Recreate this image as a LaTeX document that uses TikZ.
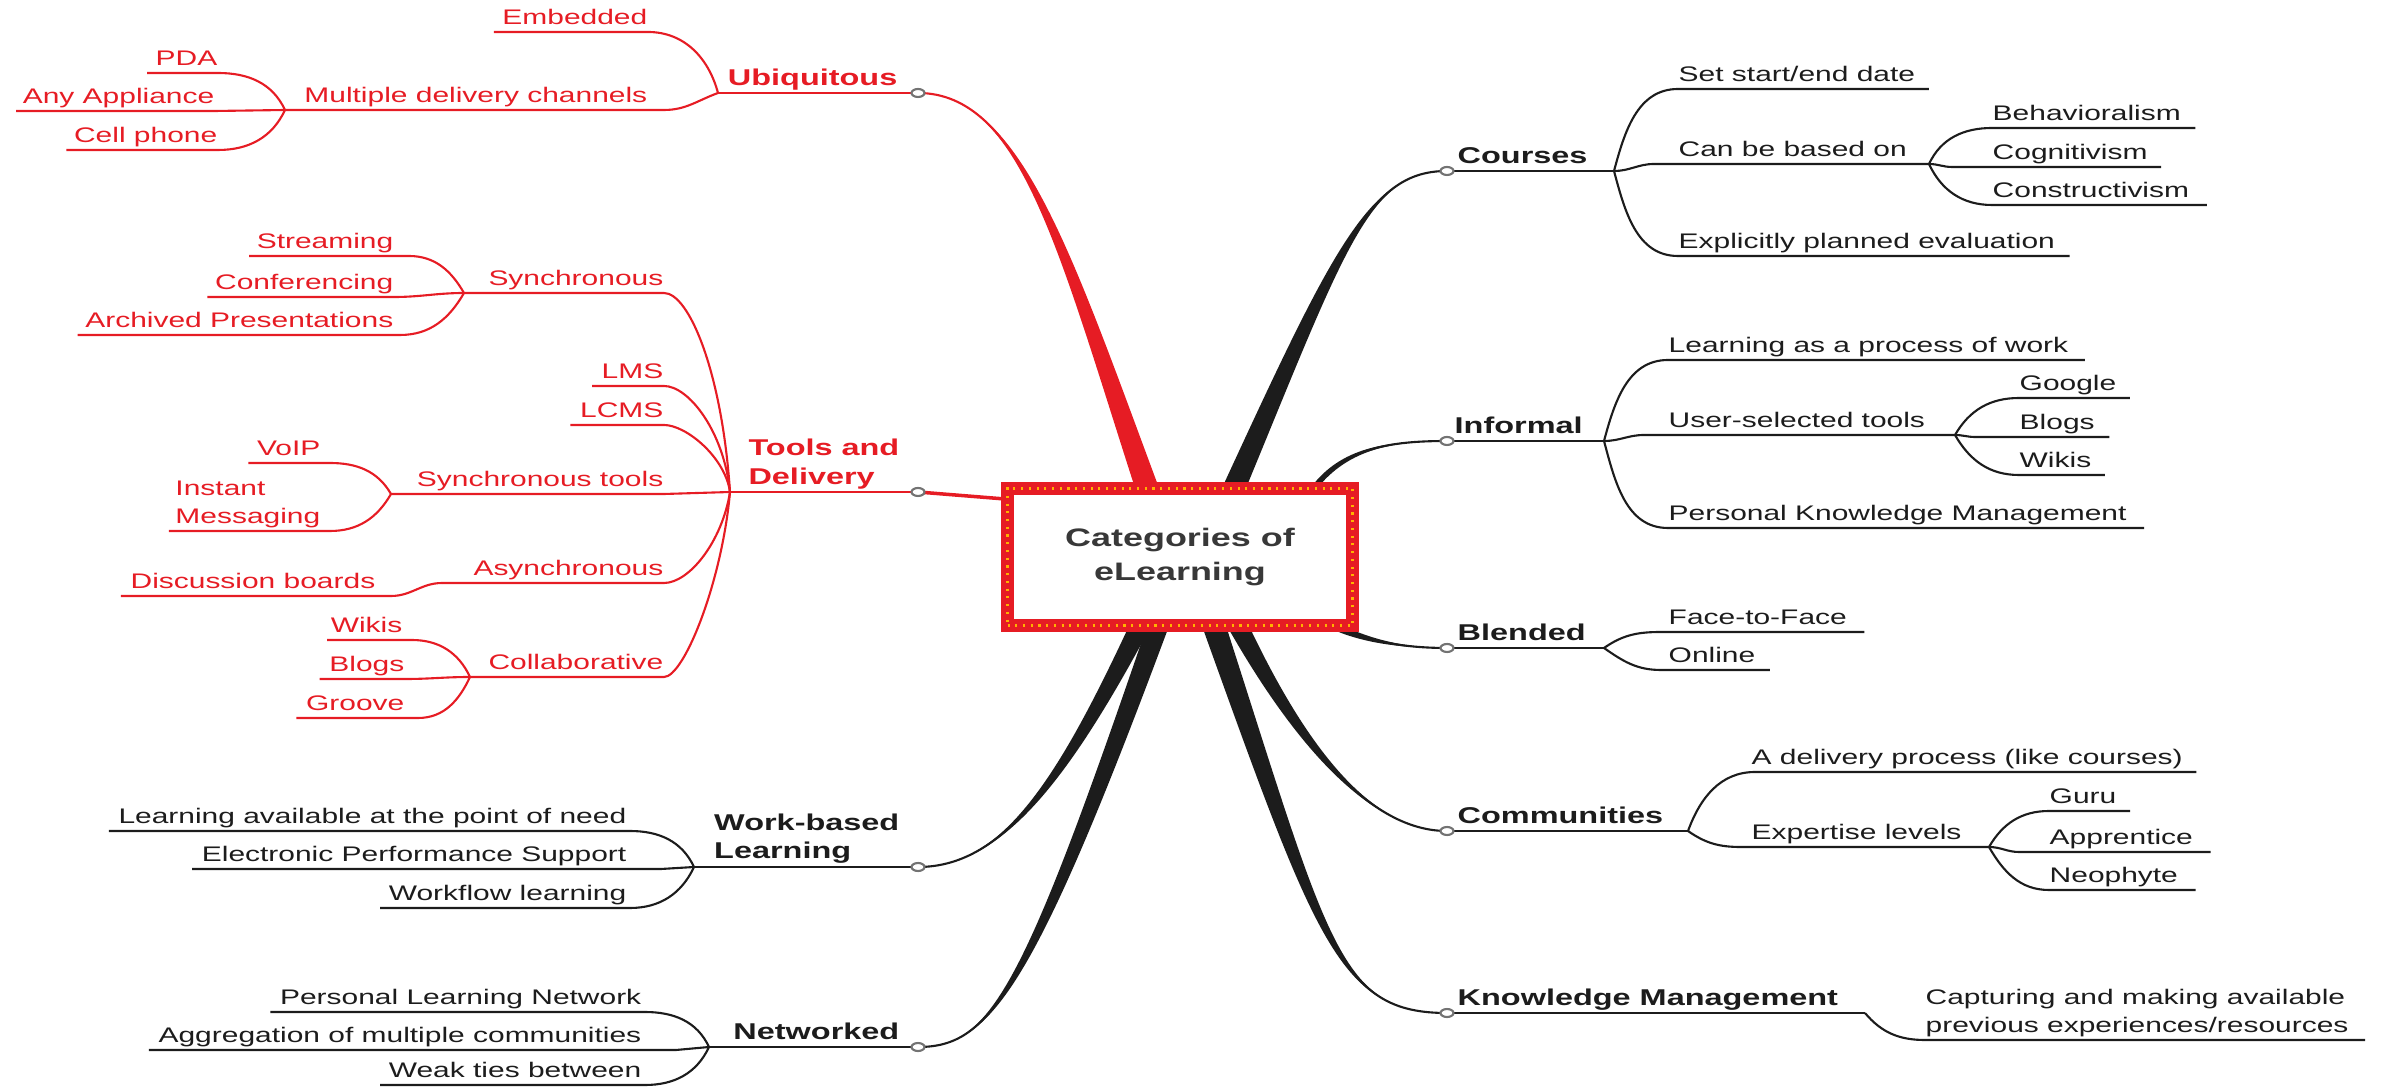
\documentclass[tikz,border=0pt]{standalone}
\usepackage{fontspec}
\setmainfont{Liberation Sans}[FakeStretch=1.42]
\usetikzlibrary{calc}

\definecolor{mmred}{RGB}{230,28,36}
\definecolor{ink}{RGB}{28,28,28}

\tikzset{
  twig/.style={inner xsep=0pt,inner ysep=0.07cm,text depth=0pt,text=ink,font=\fontsize{6}{8}\selectfont},
  twigs/.style={inner xsep=0pt,inner ysep=0.025cm,align=left,text=ink,font=\fontsize{6}{8}\selectfont},
  topic/.style={twig,font=\fontsize{6.5}{8}\selectfont\bfseries},
  topics/.style={twigs,font=\fontsize{6.5}{8}\selectfont\bfseries},
  hot/.style={text=mmred},
  lt/.style={anchor=south east},
  rt/.style={anchor=south west},
  stem/.style={draw=ink,line width=0.6pt},
  hotstem/.style={draw=mmred,line width=0.6pt},
  knob/.style={draw=black!55,fill=white,line width=0.6pt},
  hub/.style={draw=mmred,line width=3.7pt,fill=white,minimum width=3.45cm,minimum height=1.375cm,
    inner sep=0pt,align=center,text=black!78,font=\fontsize{7.2}{9.4}\selectfont\bfseries,
    postaction={draw=orange!60!yellow,line width=0.9pt,dash pattern=on 0.6pt off 1.6pt}}
}

% tapered main branch: colour, root, control 1, control 2, tip, half-width (x,y)
\newcommand\limb[7]{%
  \fill[#1] ($(#2)+(#6,#7)$) .. controls ($(#3)+0.5*(#6,#7)$) and (#4) .. (#5)
    .. controls (#4) and ($(#3)-0.5*(#6,#7)$) .. ($(#2)-(#6,#7)$) -- cycle;
  \draw[#1,line width=0.6pt] (#2) .. controls (#3) and (#4) .. (#5);}

\begin{document}
\begin{tikzpicture}
\useasboundingbox (0,0) rectangle (23.99,10.88);

% ends of the main branches
\coordinate (ubq-k) at (9.18,9.95);
\coordinate (tad-k) at (9.18,5.96);
\coordinate (wbl-k) at (9.18,2.21);
\coordinate (net-k) at (9.18,0.41);
\coordinate (crs-k) at (14.47,9.17);
\coordinate (inf-k) at (14.47,6.47);
\coordinate (bld-k) at (14.47,4.40);
\coordinate (com-k) at (14.47,2.57);
\coordinate (km-k) at (14.47,0.75);
% roots under the centre box
\coordinate (ubq-r) at (11.47,6.00);
\coordinate (crs-r) at (12.34,6.00);
\coordinate (inf-r) at (13.14,6.00);
\coordinate (bld-r) at (13.35,4.62);
\coordinate (com-r) at (12.38,4.62);
\coordinate (km-r) at (12.14,4.62);
\coordinate (wbl-r) at (11.40,4.62);
\coordinate (net-r) at (11.58,4.62);
\coordinate (tad-r) at (10.05,5.89);

\limb{mmred}{ubq-r}{10.64,8.39}{10.20,9.95}{ubq-k}{0.12}{0}
\limb{ink}{crs-r}{13.41,8.45}{13.70,9.17}{crs-k}{0.12}{0}
\limb{ink}{inf-r}{13.45,6.40}{13.90,6.47}{inf-k}{0}{0.045}
\limb{ink}{bld-r}{13.70,4.45}{14.10,4.40}{bld-k}{0}{0.045}
\limb{ink}{com-r}{13.00,3.43}{13.70,2.57}{com-k}{0.11}{0}
\limb{ink}{km-r}{13.23,1.42}{13.40,0.75}{km-k}{0.12}{0}
\limb{ink}{wbl-r}{10.60,3.02}{10.00,2.21}{wbl-k}{0.11}{0}
\limb{ink}{net-r}{10.27,0.95}{9.90,0.41}{net-k}{0.11}{0}
\draw[mmred,line width=1pt] (tad-k) -- (tad-r);

\node[hub] (hub) at (11.80,5.31) {Categories of\\eLearning};

% Ubiquitous
\node[topic,hot,lt] (ubq) at (8.98,9.95) {Ubiquitous};
\coordinate (ubq-j) at (7.18,9.95);
\draw[hotstem] (ubq-j) -- (ubq-k);
\node[twig,hot,lt] (emb) at (6.48,10.56) {Embedded};
\draw[hotstem] ([xshift=-0.08cm]emb.south west) -- (emb.south east) to[out=0,in=105] (ubq-j);
\node[twig,hot,lt] (mdc) at (6.48,9.78) {Multiple delivery channels};
\coordinate (mdc-j) at (2.85,9.78);
\draw[hotstem] (mdc-j) -- (mdc.south east) -- ++(0.16,0) to[out=0,in=200] (ubq-j);
\node[twig,hot,lt] (pda) at (2.18,10.15) {PDA};
\draw[hotstem] ([xshift=-0.08cm]pda.south west) -- (pda.south east) to[out=0,in=115] (mdc-j);
\node[twig,hot,lt] (app) at (2.15,9.77) {Any Appliance};
\draw[hotstem] ([xshift=-0.06cm]app.south west) -- (app.south east) -- (mdc-j);
\node[twig,hot,lt] (cel) at (2.18,9.38) {Cell phone};
\draw[hotstem] ([xshift=-0.07cm]cel.south west) -- (cel.south east) to[out=0,in=245] (mdc-j);

% Tools and Delivery
\node[topics,hot,lt] (tad) at (9.00,5.96) {Tools and\\Delivery};
\coordinate (tad-j) at (7.30,5.96);
\draw[hotstem] (tad-j) -- (tad-k);
\node[twig,hot,lt] (syn) at (6.64,7.95) {Synchronous};
\coordinate (syn-j) at (4.64,7.95);
\draw[hotstem] (syn-j) -- (syn.south east) .. controls +(0.25,0) and +(-0.08,1.2) .. (tad-j);
\node[twig,hot,lt] (str) at (3.94,8.32) {Streaming};
\draw[hotstem] ([xshift=-0.07cm]str.south west) -- (str.south east) -- ++(0.15,0) to[out=0,in=120] (syn-j);
\node[twig,hot,lt] (cnf) at (3.94,7.91) {Conferencing};
\draw[hotstem] ([xshift=-0.07cm]cnf.south west) -- (cnf.south east) to[out=0,in=180] (syn-j);
\node[twig,hot,lt] (arc) at (3.94,7.53) {Archived Presentations};
\draw[hotstem] ([xshift=-0.07cm]arc.south west) -- (arc.south east) -- ++(0.06,0) to[out=0,in=240] (syn-j);
\node[twig,hot,lt] (lms) at (6.64,7.02) {LMS};
\draw[hotstem] ([xshift=-0.09cm]lms.south west) -- (lms.south east) .. controls +(0.25,0) and +(-0.06,0.6) .. (tad-j);
\node[twig,hot,lt] (lcms) at (6.64,6.63) {LCMS};
\draw[hotstem] ([xshift=-0.09cm]lcms.south west) -- (lcms.south east) .. controls +(0.22,0) and +(-0.05,0.35) .. (tad-j);
\node[twig,hot,lt] (syt) at (6.64,5.94) {Synchronous tools};
\coordinate (syt-j) at (3.91,5.94);
\draw[hotstem] (syt-j) -- (syt.south east) -- (tad-j);
\node[twig,hot,lt] (voip) at (3.21,6.25) {VoIP};
\draw[hotstem] ([xshift=-0.08cm]voip.south west) -- (voip.south east) -- ++(0.09,0) to[out=0,in=120] (syt-j);
\node[twigs,hot,lt] (im) at (3.21,5.57) {Instant\\Messaging};
\draw[hotstem] ([xshift=-0.06cm]im.south west) -- (im.south east) -- ++(0.09,0) to[out=0,in=240] (syt-j);
\node[twig,hot,lt] (asy) at (6.64,5.05) {Asynchronous};
\coordinate (asy-j) at (4.42,5.05);
\draw[hotstem] (asy-j) -- (asy.south east) .. controls +(0.25,0) and +(-0.08,-0.5) .. (tad-j);
\node[twig,hot,lt] (dsc) at (3.76,4.92) {Discussion boards};
\draw[hotstem] ([xshift=-0.09cm]dsc.south west) -- (dsc.south east) -- ++(0.15,0) to[out=0,in=180] (asy-j);
\node[twig,hot,lt] (col) at (6.64,4.11) {Collaborative};
\coordinate (col-j) at (4.70,4.11);
\draw[hotstem] (col-j) -- (col.south east) .. controls +(0.2,0) and +(-0.08,-0.9) .. (tad-j);
\node[twig,hot,lt] (wik) at (4.03,4.48) {Wikis};
\draw[hotstem] ([xshift=-0.03cm]wik.south west) -- (wik.south east) -- ++(0.09,0) to[out=0,in=115] (col-j);
\node[twig,hot,lt] (blg) at (4.05,4.09) {Blogs};
\draw[hotstem] ([xshift=-0.09cm]blg.south west) -- (blg.south east) to[out=0,in=180] (col-j);
\node[twig,hot,lt] (grv) at (4.05,3.70) {Groove};
\draw[hotstem] ([xshift=-0.09cm]grv.south west) -- (grv.south east) -- ++(0.13,0) to[out=0,in=245] (col-j);

% Work-based Learning
\node[topics,lt] (wbl) at (9.00,2.21) {Work-based\\Learning};
\coordinate (wbl-j) at (6.94,2.21);
\draw[stem] (wbl-j) -- (wbl-k);
\node[twig,lt] (lan) at (6.27,2.57) {Learning available at the point of need};
\draw[stem] ([xshift=-0.09cm]lan.south west) -- (lan.south east) -- ++(0.03,0) to[out=0,in=115] (wbl-j);
\node[twig,lt] (eps) at (6.27,2.19) {Electronic Performance Support};
\draw[stem] ([xshift=-0.09cm]eps.south west) -- (eps.south east) -- ++(0.34,0) -- (wbl-j);
\node[twig,lt] (wfl) at (6.27,1.80) {Workflow learning};
\draw[stem] ([xshift=-0.08cm]wfl.south west) -- (wfl.south east) -- ++(0.03,0) to[out=0,in=245] (wbl-j);

% Networked
\node[topic,lt] (net) at (9.00,0.41) {Networked};
\coordinate (net-j) at (7.09,0.41);
\draw[stem] (net-j) -- (net-k);
\node[twig,lt] (pln) at (6.42,0.76) {Personal Learning Network};
\draw[stem] ([xshift=-0.09cm]pln.south west) -- (pln.south east) -- ++(0.03,0) to[out=0,in=115] (net-j);
\node[twig,lt] (agg) at (6.42,0.38) {Aggregation of multiple communities};
\draw[stem] ([xshift=-0.09cm]agg.south west) -- (agg.south east) -- ++(0.34,0) -- (net-j);
\node[twig,lt] (wtb) at (6.42,0.03) {Weak ties between};
\draw[stem] ([xshift=-0.08cm]wtb.south west) -- (wtb.south east) -- ++(0.03,0) to[out=0,in=245] (net-j);

% Courses
\node[topic,rt] (crs) at (14.57,9.17) {Courses};
\coordinate (crs-j) at (16.14,9.17);
\draw[stem] (crs-k) -- (crs-j);
\node[twig,rt] (ssd) at (16.78,9.99) {Set start/end date};
\draw[stem] (crs-j) to[out=75,in=180] (ssd.south west) -- ([xshift=0.13cm]ssd.south east);
\node[twig,rt] (cbo) at (16.78,9.24) {Can be based on};
\coordinate (cbo-j) at (19.29,9.24);
\draw[stem] (crs-j) to[out=0,in=180] ([xshift=-0.24cm]cbo.south west) -- (cbo-j);
\node[twig,rt] (beh) at (19.92,9.60) {Behavioralism};
\draw[stem] (cbo-j) to[out=65,in=180] (beh.south west) -- ([xshift=0.14cm]beh.south east);
\node[twig,rt] (cog) at (19.92,9.21) {Cognitivism};
\draw[stem] (cbo-j) to[out=0,in=180] ([xshift=-0.4cm]cog.south west) -- ([xshift=0.13cm]cog.south east);
\node[twig,rt] (cst) at (19.92,8.83) {Constructivism};
\draw[stem] (cbo-j) to[out=-65,in=180] (cst.south west) -- ([xshift=0.17cm]cst.south east);
\node[twig,rt] (epe) at (16.78,8.32) {Explicitly planned evaluation};
\draw[stem] (crs-j) to[out=-75,in=180] (epe.south west) -- ([xshift=0.14cm]epe.south east);

% Informal
\node[topic,rt] (inf) at (14.54,6.47) {Informal};
\coordinate (inf-j) at (16.04,6.47);
\draw[stem] (inf-k) -- (inf-j);
\node[twig,rt] (lpw) at (16.68,7.28) {Learning as a process of work};
\draw[stem] (inf-j) to[out=75,in=180] (lpw.south west) -- ([xshift=0.16cm]lpw.south east);
\node[twig,rt] (ust) at (16.68,6.53) {User-selected tools};
\coordinate (ust-j) at (19.55,6.53);
\draw[stem] (inf-j) to[out=0,in=180] ([xshift=-0.24cm]ust.south west) -- (ust-j);
\node[twig,rt] (ggl) at (20.19,6.90) {Google};
\draw[stem] (ust-j) to[out=60,in=180] (ggl.south west) -- ([xshift=0.13cm]ggl.south east);
\node[twig,rt] (blg2) at (20.19,6.51) {Blogs};
\draw[stem] (ust-j) to[out=0,in=180] ([xshift=-0.44cm]blg2.south west) -- ([xshift=0.14cm]blg2.south east);
\node[twig,rt] (wik2) at (20.19,6.13) {Wikis};
\draw[stem] (ust-j) to[out=-60,in=180] (wik2.south west) -- ([xshift=0.13cm]wik2.south east);
\node[twig,rt] (pkm) at (16.68,5.60) {Personal Knowledge Management};
\draw[stem] (inf-j) to[out=-75,in=180] (pkm.south west) -- ([xshift=0.17cm]pkm.south east);

% Blended
\node[topic,rt] (bld) at (14.57,4.40) {Blended};
\coordinate (bld-j) at (16.04,4.40);
\draw[stem] (bld-k) -- (bld-j);
\node[twig,rt] (f2f) at (16.68,4.56) {Face-to-Face};
\draw[stem] (bld-j) to[out=35,in=180] ([xshift=-0.07cm]f2f.south west) -- ([xshift=0.17cm]f2f.south east);
\node[twig,rt] (onl) at (16.68,4.18) {Online};
\draw[stem] (bld-j) to[out=-35,in=180] ([xshift=-0.07cm]onl.south west) -- ([xshift=0.14cm]onl.south east);

% Communities
\node[topic,rt] (com) at (14.57,2.57) {Communities};
\coordinate (com-j) at (16.88,2.57);
\draw[stem] (com-k) -- (com-j);
\node[twig,rt] (dlp) at (17.51,3.16) {A delivery process (like courses)};
\draw[stem] (com-j) to[out=70,in=180] ([xshift=0.04cm]dlp.south west) -- ([xshift=0.13cm]dlp.south east);
\node[twig,rt] (exl) at (17.51,2.41) {Expertise levels};
\coordinate (exl-j) at (19.89,2.41);
\draw[stem] (com-j) to[out=-35,in=180] ([xshift=-0.1cm]exl.south west) -- (exl-j);
\node[twig,rt] (gur) at (20.49,2.77) {Guru};
\draw[stem] (exl-j) to[out=60,in=180] (gur.south west) -- ([xshift=0.13cm]gur.south east);
\node[twig,rt] (apr) at (20.49,2.36) {Apprentice};
\draw[stem] (exl-j) to[out=0,in=180] ([xshift=-0.3cm]apr.south west) -- ([xshift=0.17cm]apr.south east);
\node[twig,rt] (neo) at (20.49,1.98) {Neophyte};
\draw[stem] (exl-j) to[out=-60,in=180] (neo.south west) -- ([xshift=0.17cm]neo.south east);

% Knowledge Management
\node[topic,rt] (km) at (14.57,0.75) {Knowledge Management};
\coordinate (km-j) at (18.65,0.75);
\draw[stem] (km-k) -- (km-j);
\node[twigs,rt] (cap) at (19.25,0.48) {Capturing and making available\\previous experiences/resources};
\draw[stem] (km-j) to[out=-50,in=180] (cap.south west) -- ([xshift=0.16cm]cap.south east);

\foreach \knb in {ubq,tad,wbl,net,crs,inf,bld,com,km}
  \draw[knob] (\knb-k) ellipse (0.065 and 0.04);
\end{tikzpicture}
\end{document}
